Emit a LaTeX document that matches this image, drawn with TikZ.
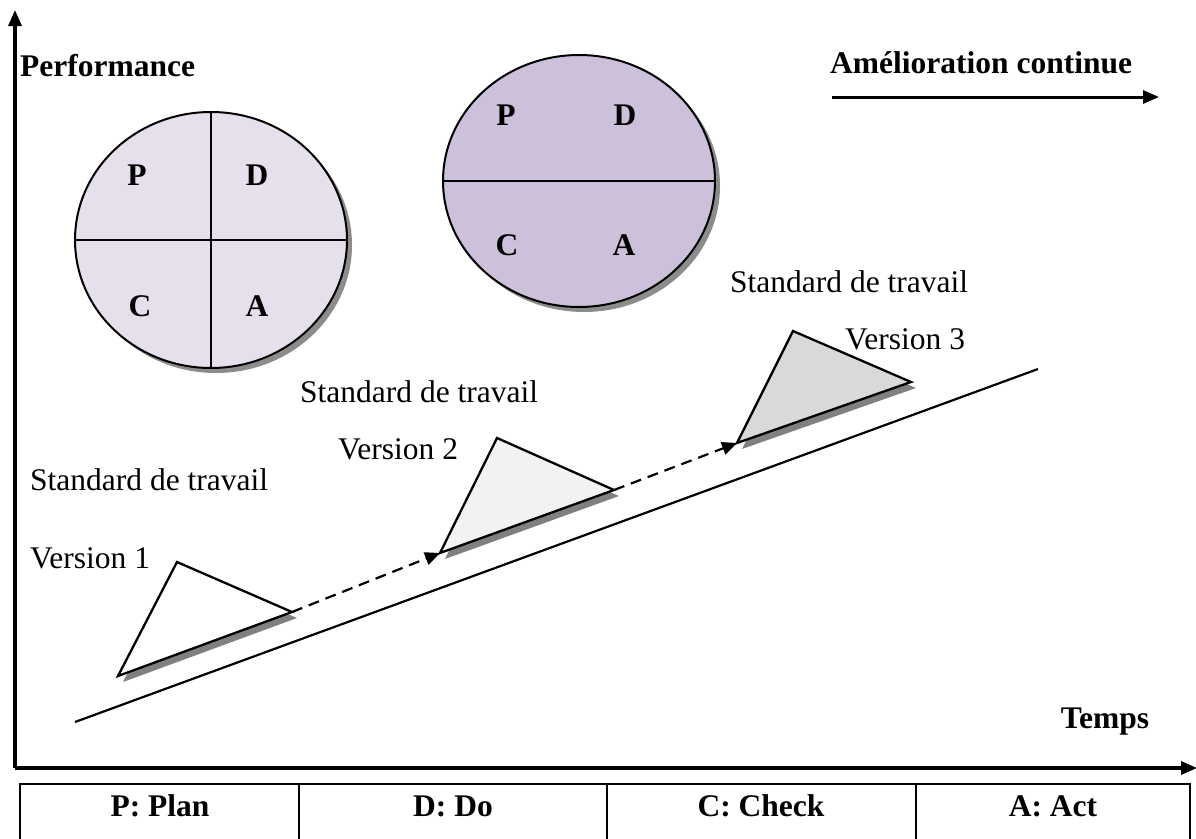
\documentclass[tikz,border=0pt]{standalone}
\usepackage{fontspec}
\setmainfont{Liberation Serif}
\usetikzlibrary{arrows.meta,shapes.geometric,shadows}

\definecolor{cycleA}{HTML}{E6E0EC}
\definecolor{cycleB}{HTML}{CCC0DA}
\definecolor{stdTwo}{HTML}{F2F2F2}
\definecolor{stdThree}{HTML}{D9D9D9}
\definecolor{shadowgray}{HTML}{808080}

\tikzset{
  axis/.style={line width=3.2pt, -{Triangle[length=16pt,width=13pt]}},
  lbl/.style={inner sep=0pt, font=\fontsize{31.5}{36}\selectfont},
  blbl/.style={inner sep=0pt, font=\fontsize{31.5}{36}\selectfont\bfseries},
  cycle/.style={ellipse, draw, line width=2pt, inner sep=0pt,
    drop shadow={shadow xshift=5pt, shadow yshift=-5pt, fill=shadowgray, opacity=0.9}},
  divider/.style={line width=2pt},
  stdtri/.style={draw, line width=2.3pt, line join=miter},
  trishadow/.style={fill=shadowgray},
  stepline/.style={line width=2.2pt, dash pattern=on 11pt off 7pt,
    -{Triangle[length=15pt,width=13pt]}},
  cell/.style={line width=2.6pt},
}

\begin{document}
\begin{tikzpicture}[x=1pt,y=-1pt]
\useasboundingbox (0,0) rectangle (1196,838);

% axes
\coordinate (origin) at (15,768);
\coordinate (ytop) at (15,10);
\coordinate (xend) at (1197,768);
\draw[axis] (origin) -- (ytop);
\draw[axis] (origin) -- (xend);
\node[blbl, anchor=west] (perf) at (20,66) {Performance};
\node[blbl] (temps) at (1105,722) {Temps};

% continuous improvement label and arrow
\node[blbl, anchor=west] (amel) at (830,63) {Amélioration continue};
\coordinate (amelA) at (832,97);
\coordinate (amelB) at (1159,97);
\draw[line width=3pt, -{Triangle[length=16pt,width=13pt]}] (amelA) -- (amelB);

% PDCA wheels
\node[cycle, fill=cycleA, minimum width=272pt, minimum height=256pt] (w1) at (211,240) {};
\draw[divider] (w1.west) -- (w1.east);
\draw[divider] (w1.north) -- (w1.south);
\node[blbl] (w1p) at (137,175) {P};
\node[blbl] (w1d) at (257,175) {D};
\node[blbl] (w1c) at (140,306) {C};
\node[blbl] (w1a) at (257,306) {A};

\node[cycle, fill=cycleB, minimum width=272pt, minimum height=252pt] (w2) at (579,181) {};
\draw[divider] (w2.west) -- (w2.east);
\node[blbl] (w2p) at (506,115) {P};
\node[blbl] (w2d) at (625,115) {D};
\node[blbl] (w2c) at (507,245) {C};
\node[blbl] (w2a) at (624,245) {A};

% rising trend line
\coordinate (trendA) at (75,722);
\coordinate (trendB) at (1038,369);
\draw[line width=2.2pt] (trendA) -- (trendB);

% work standards (wedges)
\coordinate (s1l) at (118,676); \coordinate (s1t) at (177,562); \coordinate (s1r) at (292,612);
\coordinate (s2l) at (440,553); \coordinate (s2t) at (497,438); \coordinate (s2r) at (614,490);
\coordinate (s3l) at (737,443); \coordinate (s3t) at (793,331); \coordinate (s3r) at (911,382);

\foreach \s in {s1,s2,s3}
  \fill[trishadow] ([shift={(5,6)}]\s l) -- ([shift={(5,6)}]\s t) -- ([shift={(5,6)}]\s r) -- cycle;
\filldraw[stdtri, fill=white] (s1l) -- (s1t) -- (s1r) -- cycle;
\filldraw[stdtri, fill=stdTwo] (s2l) -- (s2t) -- (s2r) -- cycle;
\filldraw[stdtri, fill=stdThree] (s3l) -- (s3t) -- (s3r) -- cycle;

\draw[stepline] (s1r) -- (s2l);
\draw[stepline] (s2r) -- (s3l);

\node[lbl, anchor=west] (std1) at (30,480) {Standard de travail};
\node[lbl, anchor=west] (ver1) at (30,558) {Version 1};
\node[lbl, anchor=west] (std2) at (300,392) {Standard de travail};
\node[lbl, anchor=west] (ver2) at (338,449) {Version 2};
\node[lbl, anchor=west] (std3) at (730,282) {Standard de travail};
\node[lbl, anchor=west] (ver3) at (845,339) {Version 3};

% legend table
\draw[cell] (20,850) -- (20,784) -- (1190,784) -- (1190,850);
\draw[cell] (299,784) -- (299,850);
\draw[cell] (607,784) -- (607,850);
\draw[cell] (916,784) -- (916,850);
\node[blbl] (lp) at (160,806) {P: Plan};
\node[blbl] (ld) at (453,806) {D: Do};
\node[blbl] (lc) at (761,806) {C: Check};
\node[blbl] (la) at (1053,806) {A: Act};
\end{tikzpicture}
\end{document}
